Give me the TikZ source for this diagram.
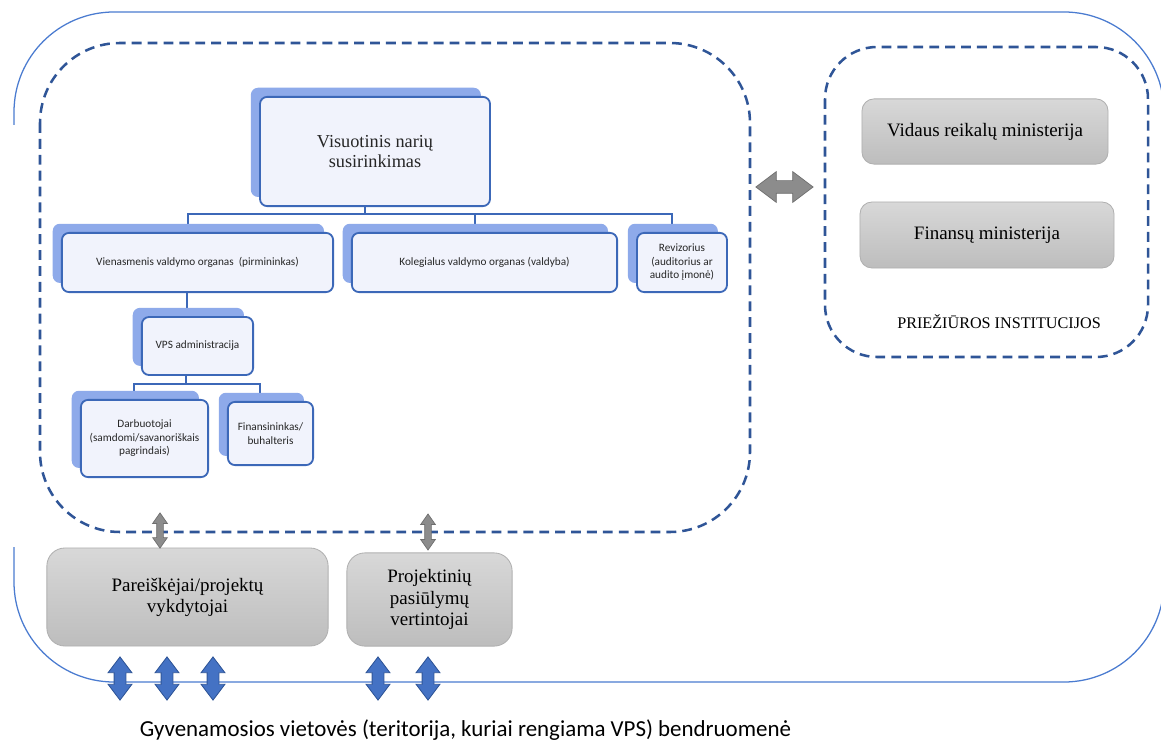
\documentclass[tikz,border=0pt]{standalone}
\usepackage{fontspec}
\setmainfont{Liberation Serif}
\newfontfamily\calib{Carlito}
\usepackage{xcolor}
\usepackage{tikz}
\usetikzlibrary{shapes.arrows,shadows,backgrounds}

\definecolor{outerblue}{HTML}{4A7BD0}
\definecolor{dashblue}{HTML}{2F5597}
\definecolor{orgblue}{HTML}{3C68B8}
\definecolor{orgfill}{HTML}{F1F3FC}
\definecolor{shadowblue}{HTML}{8EAAEA}
\definecolor{gtop}{HTML}{D8D8D8}
\definecolor{gbot}{HTML}{BDBDBD}
\definecolor{gline}{HTML}{B0B0B0}
\definecolor{argray}{HTML}{8C8C8C}
\definecolor{argrayline}{HTML}{6E6E6E}
\definecolor{arblue}{HTML}{4472C4}
\definecolor{arblueline}{HTML}{2F5597}

\begin{document}
\begin{tikzpicture}[x=0.025cm,y=-0.025cm]
\tikzstyle{org}=[rectangle,rounded corners=0.18cm,draw=orgblue,line width=1.3pt,fill=orgfill,align=center,inner sep=2pt,text=black!85,font=\calib\fontsize{8}{9.6}\selectfont,general shadow={fill=shadowblue,shadow xshift=-6.5pt,shadow yshift=6.5pt}]
\tikzstyle{gbox}=[rectangle,rounded corners=0.3cm,draw=gline,line width=0.6pt,top color=gtop,bottom color=gbot,align=center,font=\fontsize{13.5}{15}\selectfont]
\tikzstyle{link}=[draw=orgblue,line width=1.4pt]
\tikzstyle{dashline}=[draw=dashblue,line width=1.8pt,dash pattern=on 7pt off 4.3pt]
\tikzstyle{garrow}=[double arrow,draw=argrayline,fill=argray,line width=0.5pt,inner xsep=0pt]
\tikzstyle{barrow}=[double arrow,draw=arblueline,fill=arblue,line width=0.6pt,inner xsep=0pt,inner ysep=0.1375cm,rotate=90,minimum height=1.08cm,minimum width=0.58cm,double arrow head extend=0.15cm,double arrow tip angle=74]
\useasboundingbox (0,0) rectangle (1161,747);

% frames
\draw[outerblue,line width=0.9pt,rounded corners=2.5cm] (14,125) -- (14,12) -- (1164,12) -- (1164,682) -- (14,682) -- (14,547);
\draw[dashline,rounded corners=2cm] (40,43) rectangle (750,532);
\draw[dashline,rounded corners=1.3cm] (825,47) rectangle (1148,357);

% organisation chart
\node[org,font=\fontsize{13}{14}\selectfont,minimum width=5.75cm,minimum height=2.73cm] (vno) at (375,151.5) {Visuotinis narių\\susirinkimas};
\node[org,minimum width=6.78cm,minimum height=1.48cm] (vien) at (197.5,262.5) {Vienasmenis valdymo organas \ (pirmininkas)};
\node[org,minimum width=6.63cm,minimum height=1.48cm] (koleg) at (484.5,262.5) {Kolegialus valdymo organas (valdyba)};
\node[org,minimum width=2.25cm,minimum height=1.48cm] (reviz) at (682,262.5) {Revizorius\\(auditorius ar\\audito įmonė)};
\node[org,minimum width=2.78cm,minimum height=1.45cm] (vps) at (197.5,346) {VPS administracija};
\node[org,minimum width=3.18cm,minimum height=1.93cm] (darb) at (144.5,438.5) {Darbuotojai\\(samdomi/savanoriškais\\pagrindais)};
\node[org,minimum width=2.13cm,minimum height=1.58cm] (fin) at (270.5,433.5) {Finansininkas/\\buhalteris};
\begin{scope}[on background layer]
\draw[link] ([xshift=-0.25cm]vno.south) -- ++(0,7) -| ([xshift=-0.24cm]vien.north);
\draw[link] ([xshift=-0.25cm]vno.south) -- ++(0,7) -| ([xshift=-0.24cm]koleg.north);
\draw[link] ([xshift=-0.25cm]vno.south) -- ++(0,7) -| ([xshift=-0.25cm]reviz.north);
\draw[link] ([xshift=-0.26cm]vien.south) -- ([xshift=-0.26cm]vps.north);
\draw[link] ([xshift=-0.28cm]vps.south) -- ++(0,8) -| ([xshift=-0.26cm]darb.north);
\draw[link] ([xshift=-0.28cm]vps.south) -- ++(0,8) -| ([xshift=-0.26cm]fin.north);
\end{scope}

% supervision
\node[gbox,minimum width=6.15cm,minimum height=1.63cm] (vrm) at (985,131.5) {Vidaus reikalų ministerija};
\node[gbox,minimum width=6.35cm,minimum height=1.65cm] (fm) at (987,235) {Finansų ministerija};
\node[font=\fontsize{11.5}{13}\selectfont] (prz) at (999,322) {PRIEŽIŪROS INSTITUCIJOS};
\node[garrow,inner ysep=0.15cm,minimum height=1.43cm,minimum width=0.75cm,double arrow head extend=0.225cm,double arrow tip angle=74] (lr) at (784.5,187) {};

% applicants and evaluators
\node[gbox,rounded corners=0.45cm,minimum width=7.03cm,minimum height=2.45cm] (pare) at (187.5,597) {Pareiškėjai/projektų\\vykdytojai};
\node[gbox,rounded corners=0.45cm,minimum width=4.13cm,minimum height=2.33cm] (proj) at (429.5,599.5) {Projektinių\\pasiūlymų\\vertintojai};
\node[garrow,rotate=90,inner ysep=0.075cm,minimum height=0.88cm,minimum width=0.35cm,double arrow head extend=0.1cm,double arrow tip angle=70] (ud1) at (160,530.5) {};
\node[garrow,rotate=90,inner ysep=0.075cm,minimum height=0.9cm,minimum width=0.35cm,double arrow head extend=0.1cm,double arrow tip angle=70] (ud2) at (428,532) {};

% community
\foreach \i/\x in {1/120,2/167,3/213,4/378,5/428}
  \node[barrow] (com\i) at (\x,678.5) {};
\node[anchor=base west,font=\calib\fontsize{16.3}{19}\selectfont] (bend) at (135,736) {Gyvenamosios vietovės (teritorija, kuriai rengiama VPS) bendruomenė};
\end{tikzpicture}
\end{document}
